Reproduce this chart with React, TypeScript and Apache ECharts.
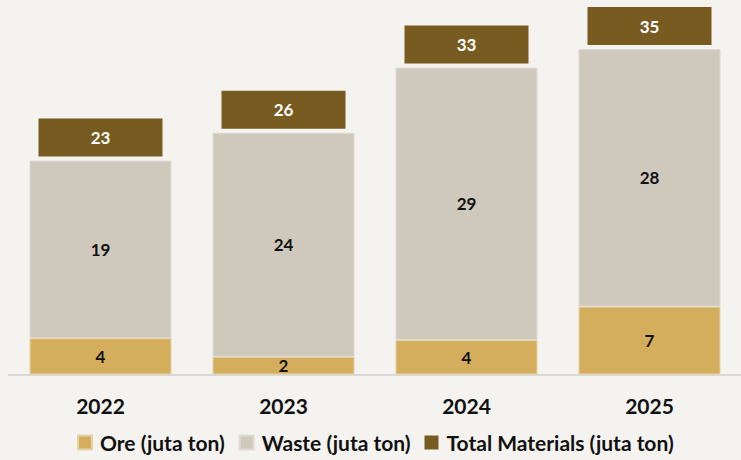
import React, { useEffect, useRef } from "react";
import * as echarts from "echarts";

const years = ["2022", "2023", "2024", "2025"];
const ore = [3.9, 1.9, 3.7, 7.3];
const waste = [19.1, 24.1, 29.3, 27.7];
const totals = [23, 26, 33, 35];
const seriesNames = ["Ore (juta ton)", "Waste (juta ton)", "Total Materials (juta ton)"];

const FONT = "Lato, 'Open Sans', sans-serif";

export default function App() {
  const ref = useRef<HTMLDivElement>(null);
  useEffect(() => {
    if (!ref.current) return;
    const chart = echarts.init(ref.current, null, { renderer: "svg" });
    const round = (p: any) => String(Math.round(p.value));
    chart.setOption({
      animation: false,
      backgroundColor: "#f4f3ef",
      textStyle: { fontFamily: FONT },
      grid: { left: 9, top: 2.5, width: 737, height: 372, containLabel: false },
      legend: {
        data: seriesNames,
        top: 432,
        left: 77,
        padding: 0,
        icon: "rect",
        itemWidth: 14,
        itemHeight: 14,
        itemGap: 14,
        textStyle: { fontFamily: FONT, fontSize: 21, fontWeight: "bold", color: "#111", padding: [0, 0, 0, 3] },
      },
      xAxis: {
        type: "category",
        data: years,
        axisLine: { lineStyle: { color: "#d9d9d9", width: 2 } },
        axisTick: { show: false },
        axisLabel: { margin: 20, fontFamily: FONT, fontSize: 21, fontWeight: "bold", color: "#111" },
      },
      yAxis: { type: "value", min: 0, max: 40, show: false, splitLine: { show: false } },
      series: [
        {
          name: seriesNames[0],
          type: "bar",
          stack: "m",
          barWidth: 142,
          data: ore,
          itemStyle: { color: "#d4ae5c", borderColor: "#e3d3a8", borderWidth: 1 },
          label: { show: true, position: "inside", formatter: round, fontFamily: FONT, fontSize: 17, fontWeight: "bold", color: "#111" },
        },
        {
          name: seriesNames[1],
          type: "bar",
          stack: "m",
          barWidth: 142,
          data: waste,
          itemStyle: { color: "#cfc8bc", borderColor: "#dfdad2", borderWidth: 1 },
          label: { show: true, position: "inside", formatter: round, fontFamily: FONT, fontSize: 17, fontWeight: "bold", color: "#111" },
        },
        {
          name: seriesNames[2],
          type: "scatter",
          data: totals,
          symbol: "rect",
          symbolSize: [124, 38],
          symbolOffset: [0, -23],
          itemStyle: { color: "#785b20", opacity: 1 },
          z: 5,
          label: {
            show: true,
            position: "inside",
            formatter: round,
            fontFamily: FONT,
            fontSize: 17,
            fontWeight: "bold",
            color: "#ffffff",
          },
        },
      ],
    });
    return () => chart.dispose();
  }, []);
  return <div ref={ref} style={{ position: "absolute", left: 0, top: 0, width: 741, height: 460 }} />;
}
